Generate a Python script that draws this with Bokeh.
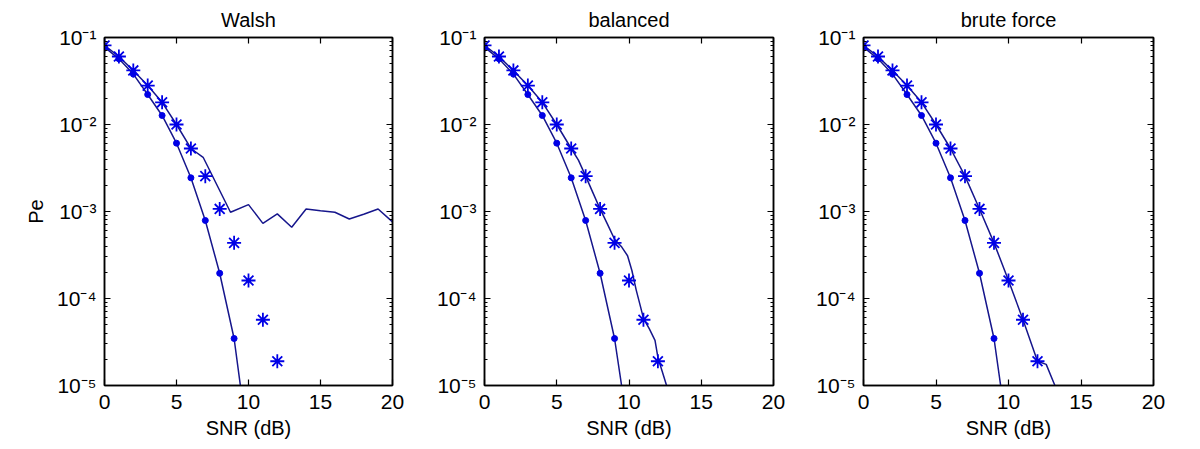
from bokeh.plotting import figure
from bokeh.models import Range1d, LogAxis, LinearAxis, FixedTicker, CustomJSTickFormatter
from bokeh.layouts import row
from bokeh.embed import file_html
from bokeh.resources import INLINE

# ---------------- data ----------------
titles = ["Walsh", "balanced", "brute force"]

# marker series (identical in all three panels)
snr_star = [0, 1, 2, 3, 4, 5, 6, 7, 8, 9, 10, 11, 12]
pe_star = [0.081, 0.0605, 0.0418, 0.028, 0.018, 0.010, 0.0053, 0.00255,
           0.00107, 0.000436, 0.000161, 5.7e-5, 1.9e-5]
snr_dot = [0, 1, 2, 3, 4, 5, 6, 7, 8, 9]
pe_dot = [0.0776, 0.0569, 0.038, 0.0221, 0.0127, 0.0061, 0.00244, 0.000789,
          0.000195, 3.47e-5]

# Walsh curves
walsh_line_snr = [0, 1, 2, 3, 4, 5, 6, 6.85, 8.75, 10, 11, 12, 13, 14, 15, 16,
                  17, 18, 19, 20]
walsh_line_pe = [0.081, 0.0605, 0.0418, 0.028, 0.018, 0.010, 0.0053, 0.0042,
                 0.00098, 0.0012, 0.00073, 0.00094, 0.00066, 0.00107, 0.00102,
                 0.00098, 0.00082, 0.00093, 0.00107, 0.00076]
walsh_dot_snr = [0, 1, 2, 3, 4, 5, 6, 7, 8, 9, 10]
walsh_dot_pe = [0.0776, 0.0569, 0.038, 0.0221, 0.0127, 0.0061, 0.00244,
                0.000789, 0.000195, 3.47e-5, 2.0e-6]

# balanced curves
bal_line_snr = [0, 1, 2, 3, 4, 5, 6, 6.5, 7, 7.5, 8, 8.5, 9, 9.5, 9.9, 10.2,
                10.5, 10.8, 11, 11.4, 11.8, 12, 12.3, 12.6, 12.8]
bal_line_pe = [0.081, 0.0605, 0.0418, 0.028, 0.018, 0.010, 0.0053, 0.0039,
               0.00255, 0.00165, 0.00107, 0.00072, 0.00048, 0.00039, 0.00031,
               0.00021, 0.000125, 8.0e-5, 5.9e-5, 4.5e-5, 3.3e-5, 2.1e-5,
               1.45e-5, 1.0e-5, 7.5e-6]
bal_dot_snr = [0, 1, 2, 3, 4, 5, 6, 7, 8, 9, 10]
bal_dot_pe = [0.0776, 0.0569, 0.038, 0.0221, 0.0127, 0.0061, 0.00244,
              0.000789, 0.000195, 3.47e-5, 2.7e-6]

# brute force curves
bf_line_snr = [0, 1, 2, 3, 4, 5, 6, 7, 8, 9, 10, 11, 12, 12.6, 13.2, 13.4]
bf_line_pe = [0.081, 0.0605, 0.0418, 0.028, 0.018, 0.010, 0.0053, 0.00255,
              0.00107, 0.000436, 0.000161, 5.7e-5, 1.9e-5, 1.75e-5, 1.0e-5,
              8e-6]
bf_dot_snr = [0, 1, 2, 3, 4, 5, 6, 7, 8, 9, 10]
bf_dot_pe = [0.0776, 0.0569, 0.038, 0.0221, 0.0127, 0.0061, 0.00244,
             0.000789, 0.000195, 3.47e-5, 2.3e-6]

x_ticks = [0, 5, 10, 15, 20]
y_ticks = [1e-5, 1e-4, 1e-3, 1e-2, 1e-1]

# ---------------- styling ----------------
FONT = "Liberation Sans"
LINE_COLOR = "#16168c"
MARK_COLOR = "#0000e6"

minor_y = [m * t for t in y_ticks[:-1] for m in range(2, 10)]

sup_js = """
const e = Math.round(Math.log10(tick));
const sup = {"-":"\u207B","0":"\u2070","1":"\u00B9","2":"\u00B2","3":"\u00B3",
             "4":"\u2074","5":"\u2075","6":"\u2076","7":"\u2077","8":"\u2078","9":"\u2079"};
return "10" + String(e).split("").map(c => sup[c]).join("");
"""


def style_axis(ax, labels=True):
    ax.axis_line_color = "black"
    ax.axis_line_width = 1.5
    ax.major_tick_line_color = "black"
    ax.minor_tick_line_color = "black"
    ax.major_tick_line_width = 1.2
    ax.minor_tick_line_width = 1.2
    ax.major_tick_in = 6
    ax.major_tick_out = 0
    ax.minor_tick_in = 3
    ax.minor_tick_out = 0
    ax.major_label_text_font = FONT
    ax.major_label_text_color = "black"
    if labels:
        ax.major_label_text_font_size = "21px"
    else:
        ax.major_label_text_font_size = "0px"
        ax.major_label_standoff = 0
        ax.formatter = CustomJSTickFormatter(code="return '';")


def panel(title, line_snr, line_pe, dot_snr, dot_pe, left, frame_w, right, ylabel):
    p = figure(frame_width=frame_w, frame_height=348,
               x_range=Range1d(0, 20), y_range=Range1d(1e-5, 1e-1),
               y_axis_type="log", output_backend="svg", toolbar_location=None,
               min_border_left=left, min_border_right=right,
               min_border_top=37, min_border_bottom=60,
               background_fill_color="white", border_fill_color="white",
               outline_line_color="black", outline_line_width=1.5)
    p.grid.visible = False

    p.title.text = title
    p.title.align = "center"
    p.title.text_font = FONT
    p.title.text_font_size = "20px"
    p.title.text_font_style = "normal"
    p.title.text_color = "black"
    p.title.text_line_height = 0.9
    p.title.standoff = 13

    xa = p.xaxis[0]
    xa.ticker = FixedTicker(ticks=x_ticks)
    style_axis(xa)
    xa.minor_tick_line_color = None
    xa.major_label_standoff = 9
    xa.axis_label = "SNR (dB)"
    xa.axis_label_text_font = FONT
    xa.axis_label_text_font_size = "20px"
    xa.axis_label_text_font_style = "normal"
    xa.axis_label_text_color = "black"
    xa.axis_label_standoff = 5

    ya = p.yaxis[0]
    ya.ticker = FixedTicker(ticks=y_ticks, minor_ticks=minor_y)
    style_axis(ya)
    ya.formatter = CustomJSTickFormatter(code=sup_js)
    ya.major_label_standoff = 8
    if ylabel:
        ya.axis_label = ylabel
        ya.axis_label_text_font = FONT
        ya.axis_label_text_font_size = "20px"
        ya.axis_label_text_font_style = "normal"
        ya.axis_label_text_color = "black"
        ya.axis_label_standoff = 7

    top = LinearAxis(ticker=FixedTicker(ticks=x_ticks))
    style_axis(top, labels=False)
    top.minor_tick_line_color = None
    p.add_layout(top, "above")

    rt = LogAxis(ticker=FixedTicker(ticks=y_ticks, minor_ticks=minor_y))
    style_axis(rt, labels=False)
    p.add_layout(rt, "right")

    # curves
    p.line(line_snr, line_pe, line_color=LINE_COLOR, line_width=1.5)
    p.line(dot_snr, dot_pe, line_color=LINE_COLOR, line_width=1.5)
    # markers
    p.scatter(snr_star, pe_star, marker="asterisk", size=14,
              line_color=MARK_COLOR, line_width=1.8)
    p.scatter(snr_dot, pe_dot, marker="circle", size=6,
              line_color=MARK_COLOR, fill_color=MARK_COLOR)
    return p


p1 = panel(titles[0], walsh_line_snr, walsh_line_pe, walsh_dot_snr, walsh_dot_pe,
           104, 288, 12, "Pe")
p2 = panel(titles[1], bal_line_snr, bal_line_pe, bal_dot_snr, bal_dot_pe,
           80, 289, 12, None)
p3 = panel(titles[2], bf_line_snr, bf_line_pe, bf_dot_snr, bf_dot_pe,
           78, 290, 20, None)

layout = row(p1, p2, p3, spacing=0)
open("out.html", "w").write(file_html(layout, INLINE))
